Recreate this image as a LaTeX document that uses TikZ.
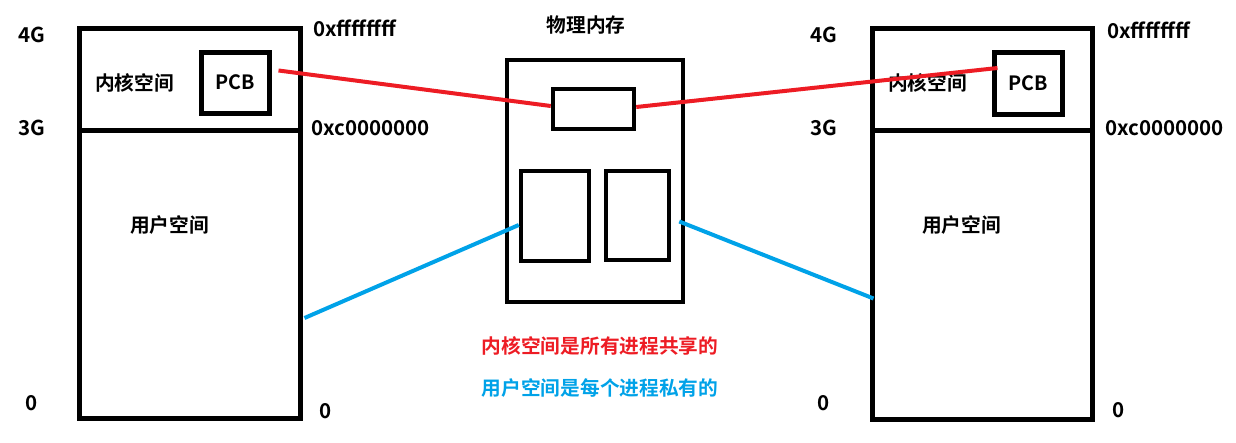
\documentclass[tikz,border=0pt]{standalone}
\usepackage{fontspec}
\setmainfont{Noto Sans CJK SC}[BoldFont={Noto Sans CJK SC Bold}]
\usepackage{xcolor}
\usepackage{tikz}
\usetikzlibrary{positioning}

\definecolor{paintred}{HTML}{ED1C24}
\definecolor{paintblue}{HTML}{00A2E8}

\begin{document}
\begin{tikzpicture}[
    x=1pt, y=-1pt,
    region/.style={rectangle, draw, line width=5pt, inner sep=0pt},
    label/.style={font=\fontsize{19.7}{23}\selectfont\bfseries, inner sep=0pt},
    addr/.style={label, font=\fontsize{20.5}{24}\selectfont\bfseries},
    redline/.style={draw=paintred, line width=4pt},
    blueline/.style={draw=paintblue, line width=4pt}
  ]
    \useasboundingbox (0,0) rectangle (1236,442);

    % virtual address space, left process
    \node[region, minimum width=221pt, minimum height=102pt] (kernl) at (189.5,79) {};
    \node[region, minimum width=221pt, minimum height=288pt] (userl) at (189.5,274) {};
    \node[region, minimum width=68pt, minimum height=61pt, label] (pcbl) at (235,82.5) {PCB};
    \node[label, anchor=west] (kntl) at (95,83) {内核空间};
    \node[label, anchor=west] (usrl) at (130,225) {用户空间};
    \node[addr, anchor=west] (g4l) at (18,35) {4G};
    \node[addr, anchor=west] (g3l) at (18,128) {3G};
    \node[addr, anchor=west] (z1l) at (25,403) {0};
    \node[addr, anchor=west] (hil) at (313,28) {0xffffffff};
    \node[addr, anchor=west] (midl) at (311,128) {0xc0000000};
    \node[addr, anchor=west] (z2l) at (319,411) {0};

    % physical memory
    \node[label] (phys) at (586,25) {物理内存};
    \node[region, line width=4.5pt, minimum width=176pt, minimum height=242pt] (mem) at (595,181) {};
    \node[region, line width=4.5pt, minimum width=81pt, minimum height=40pt] (shm) at (593.5,109) {};
    \node[region, line width=4.5pt, minimum width=68pt, minimum height=90pt] (pgl) at (555,216) {};
    \node[region, line width=4.5pt, minimum width=63pt, minimum height=89pt] (pgr) at (637.5,215.5) {};

    % virtual address space, right process
    \node[region, minimum width=220pt, minimum height=102pt] (kernr) at (982,79) {};
    \node[region, minimum width=220pt, minimum height=289pt] (userr) at (982,274.5) {};
    \node[region, minimum width=68pt, minimum height=62pt, label] (pcbr) at (1028,83) {PCB};
    \node[label, anchor=west] (kntr) at (888,83) {内核空间};
    \node[label, anchor=west] (usrr) at (922,225) {用户空间};
    \node[addr, anchor=west] (g4r) at (810,35) {4G};
    \node[addr, anchor=west] (g3r) at (810,128) {3G};
    \node[addr, anchor=west] (z1r) at (817,403) {0};
    \node[addr, anchor=west] (hir) at (1107,30) {0xffffffff};
    \node[addr, anchor=west] (midr) at (1105,128) {0xc0000000};
    \node[addr, anchor=west] (z2r) at (1112,410) {0};

    % mappings
    \draw[redline] ([xshift=7pt,yshift=12pt]pcbl.east) -- ([yshift=3pt]shm.west);
    \draw[redline] ([yshift=2pt]shm.east) -- ([xshift=6pt,yshift=15pt]pcbr.west);
    \draw[blueline] ([xshift=2pt,yshift=-44pt]userl.east) -- ([yshift=-9pt]pgl.west);
    \draw[blueline] ([xshift=8pt,yshift=-6pt]pgr.east) -- ([xshift=4pt,yshift=-24pt]userr.west);

    % notes
    \node[label, text=paintred] (notek) at (600,346) {内核空间是所有进程共享的};
    \node[label, text=paintblue] (noteu) at (600,388) {用户空间是每个进程私有的};
\end{tikzpicture}
\end{document}
